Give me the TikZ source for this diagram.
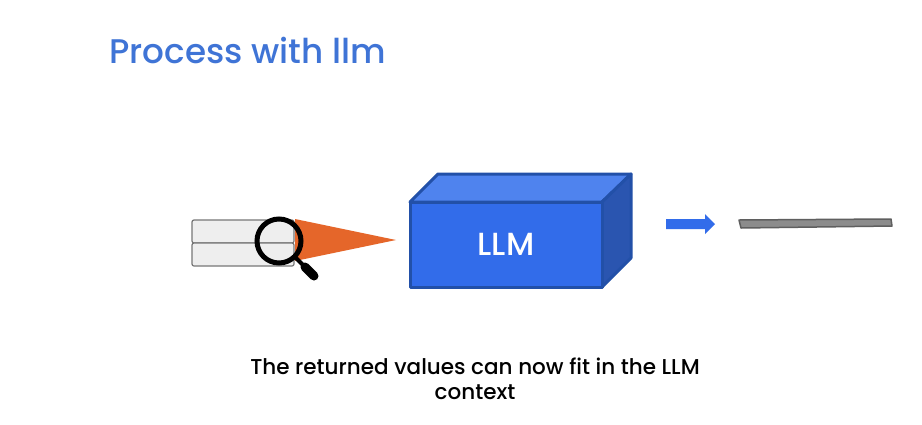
\documentclass[tikz,border=0pt]{standalone}
\usepackage{fontspec}
\setmainfont{Poppins}[UprightFont=* Medium]
\usetikzlibrary{backgrounds, positioning}

\definecolor{titleblue}{HTML}{3F74D6}
\definecolor{boxfront}{HTML}{326CEA}
\definecolor{boxtop}{HTML}{4F83EE}
\definecolor{boxside}{HTML}{2A55B0}
\definecolor{boxline}{HTML}{2250A8}
\definecolor{tabfill}{HTML}{EEEEEE}
\definecolor{tabline}{HTML}{777777}
\definecolor{beam}{HTML}{E5662A}
\definecolor{barfill}{HTML}{8C8C8C}
\definecolor{barline}{HTML}{5F5F5F}

\begin{document}
\begin{tikzpicture}[
            x=1pt,
            y=-1pt,
            background rectangle/.style={fill=white},
            show background rectangle,
            inner frame sep=0pt
        ]

        \tikzset{
            facet/.style={draw=boxline, line width=3pt, line join=round},
            tabrow/.style={draw=tabline, fill=tabfill, line width=1.2pt, rounded corners=2pt},
            label/.style={inner sep=0pt, align=center}
        }

        \useasboundingbox (0,0) rectangle (922,424);

        % Title and caption
        \node[label, anchor=west, text=titleblue, font=\fontsize{34.2}{38}\selectfont] (title) at (109,50) {Process with llm};
        \node[label, font=\fontsize{21.5}{25}\selectfont] (caption) at (475,379) {The returned values can now fit in the LLM\\context};

        % Table under the lens
        \draw[tabrow] (192,220) rectangle (294,243);
        \draw[tabrow] (192,243) rectangle (294,266);
        \fill[beam] (295,219) -- (396,240) -- (295,261) -- cycle;

        % Lens
        \coordinate (lens) at (279,241);
        \coordinate (neck) at (305,267);
        \coordinate (grip) at (314,276);
        \draw[black, line width=4pt] (295,257) -- (neck);
        \draw[black, line width=9pt, line cap=round] (neck) -- (grip);
        \draw[black, line width=5pt] (lens) circle (22);

        % LLM box
        \draw[facet, fill=boxtop] (410,202) -- (438,174) -- (631,174) -- (602,202) -- cycle;
        \draw[facet, fill=boxside] (602,202) -- (631,174) -- (631,258) -- (602,287) -- cycle;
        \draw[facet, fill=boxfront] (410,202) rectangle (602,287);
        \node[label, text=white, font=\fontsize{32}{36}\selectfont] (llm) at (506,244) {LLM};

        % Output
        \fill[boxfront] (666,219) -- (705,219) -- (705,214) -- (715,224) -- (705,234) -- (705,229) -- (666,229) -- cycle;
        \draw[draw=barline, fill=barfill, line width=1.5pt, line join=round] (739,220) -- (891,219) -- (892,226) -- (741,228) -- cycle;

    \end{tikzpicture}
\end{document}
